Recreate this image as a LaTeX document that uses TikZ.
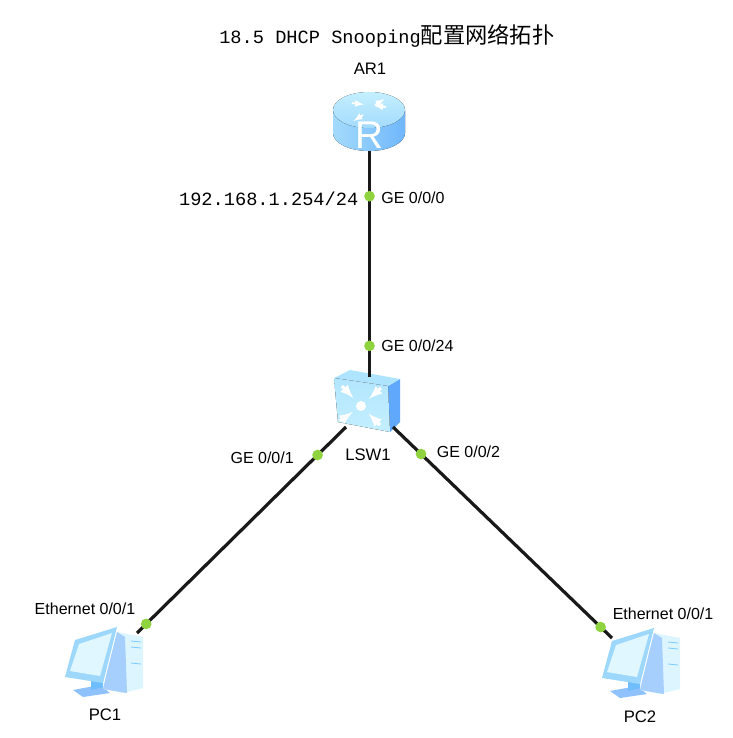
\documentclass[tikz,border=0pt]{standalone}
\usepackage{fontspec}
\setmainfont{Liberation Sans}
\setmonofont{Liberation Mono}
\newfontfamily\cjkfont{Noto Sans CJK SC}
\usepackage{tikz}
\usetikzlibrary{positioning, arrows}

\definecolor{portgreen}{HTML}{8FD33F}
\definecolor{iconblue}{HTML}{7CCBFB}
\definecolor{iconpale}{HTML}{C4EFFF}
\definecolor{iconside}{HTML}{5FA8FB}

% router, drawn around the middle of its top
\newcommand{\drawrouter}[2]{
  \begin{scope}[shift={(#1,#2)}]
    \fill [left color=iconblue!70!white, right color=iconblue!90!blue] (-36,0) -- (-36,23) arc (180:0:36 and 18) -- (36,0) -- cycle;
    \fill [top color=iconpale, bottom color=iconblue!70!white] (0,0) ellipse (36 and 18);
    \foreach \a/\b in {-17/-2, 17/2}
      \draw [white, line width=1.3pt, -latex] (\a,\b-5) -- (\a*0.3,\b*0.3-5);
    \foreach \a/\b in {-6/5, 6/-5}
      \draw [white, line width=1.3pt, -latex] (\a,\b) -- (\a*2.6,\b*2.2);
    \node (routerR) [white, font=\fontsize{29}{29}\selectfont] at (0,25) {R};
  \end{scope}
}

% switch, drawn around the middle of its front face
\newcommand{\drawswitch}[2]{
  \begin{scope}[shift={(#1,#2)}]
    \fill [iconside] (27,-20) -- (39,-27) -- (39,16) -- (29,26) -- cycle;
    \fill [iconpale!70!iconblue] (-27,-28) -- (-11,-36) -- (39,-27) -- (27,-20) -- cycle;
    \fill [top color=iconpale!75!iconblue, bottom color=iconpale] (-27,-28) -- (27,-20) -- (29,26) -- (-23,16) -- cycle;
    \fill [white] (0,0) circle (5);
    \foreach \a/\b in {-19/-20, 20/-18, -21/15, 19/19}
      \draw [white, line width=2.4pt, -latex] (\a,\b) -- (\a*0.4,\b*0.4);
  \end{scope}
}

% pc, drawn from the top left corner of its box
\newcommand{\drawpc}[2]{
  \begin{scope}[shift={(#1,#2)}]
    \fill [iconside!70!white] (8,63) -- (35,58) -- (45,66) -- (18,70) -- cycle;
    \fill [iconblue!60!iconside] (26,50) -- (38,48) -- (38,60) -- (26,63) -- cycle;
    \fill [iconpale!60!white] (52,5) -- (78,10) -- (78,61) -- (58,66) -- (38,62) -- cycle;
    \fill [iconside!55!white] (52,5) -- (60,10) -- (62,66) -- (38,62) -- (42,45) -- cycle;
    \fill [iconblue!75!white] (10,13) -- (52,0) -- (38,56) -- (0,50) -- cycle;
    \fill [iconpale!50!white] (14,17) -- (47,6) -- (35,49) -- (5,44) -- cycle;
    \foreach \b in {14,20,36}
      \draw [iconblue, line width=0.6pt] (66,\b) -- (76,\b+1);
  \end{scope}
}

\begin{document}
\begin{tikzpicture}[x=0.75pt, y=-0.75pt]
  \tikzstyle{device} = [rectangle, inner sep=0pt, outer sep=0pt]
  \tikzstyle{link} = [draw, line width=2.4pt, black!90]
  \tikzstyle{port} = [circle, fill=portgreen, inner sep=0pt, minimum size=8pt]
  \tikzstyle{portlabel} = [inner sep=0pt, font=\fontsize{12}{14}\selectfont]
  \tikzstyle{devlabel} = [inner sep=0pt, font=\fontsize{12.5}{14}\selectfont]
  \tikzstyle{monolabel} = [inner sep=0pt, font=\ttfamily\fontsize{14}{16}\selectfont]

  \useasboundingbox (0,0) rectangle (732,738);

  \node (title) [monolabel, anchor=west] at (219,36) {18.5 DHCP Snooping{\cjkfont\fontsize{16.7}{16}\selectfont 配置网络拓扑}};

  \drawrouter{369}{110}
  \drawswitch{361}{406}
  \drawpc{65}{627}
  \drawpc{602}{628}

  \node (ar1) [device, minimum width=54pt, minimum height=46.5pt] at (369.5,120) {};
  \node (lsw1) [device, minimum width=35.25pt, minimum height=37.5pt] at (369.5,402) {};
  \node (pc1) [device, minimum width=49.5pt, minimum height=46.5pt] at (104,664) {};
  \node (pc2) [device, minimum width=43.5pt, minimum height=40.5pt] at (641,665) {};

  \draw [link] (ar1) -- node (p1) [port, pos=0.2] {} node (p2) [port, pos=0.862] {} (lsw1);
  \draw [link] (lsw1.south west) -- node (p3) [port, pos=0.136] {} node (p4) [port, pos=0.956] {} (pc1.north east);
  \draw [link] (lsw1.south east) -- node (p5) [port, pos=0.128] {} node (p6) [port, pos=0.948] {} (pc2.north west);

  \node (ar1label) [devlabel] at (370,69) {AR1};
  \node (lsw1label) [devlabel] at (368,455) {LSW1};
  \node (pc1label) [devlabel] at (105,715) {PC1};
  \node (pc2label) [devlabel] at (640,717) {PC2};

  \node (iplabel) [monolabel, left=3pt of p1, yshift=-2pt] {192.168.1.254/24};
  \node (l1) [portlabel, right=3.5pt of p1, yshift=-1.5pt] {GE 0/0/0};
  \node (l2) [portlabel, right=3.5pt of p2] {GE 0/0/24};
  \node (l3) [portlabel, left=12.5pt of p3, yshift=-2pt] {GE 0/0/1};
  \node (l4) [portlabel, right=6.5pt of p5, yshift=1.5pt] {GE 0/0/2};
  \node (l5) [portlabel, anchor=center] at (85,609) {Ethernet 0/0/1};
  \node (l6) [portlabel, anchor=center] at (663,614) {Ethernet 0/0/1};
\end{tikzpicture}
\end{document}
